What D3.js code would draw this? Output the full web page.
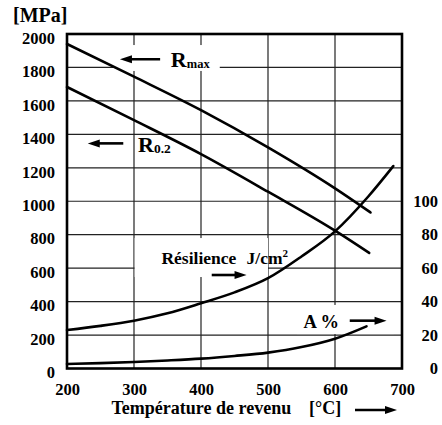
<!DOCTYPE html>
<html>
<head>
<meta charset="utf-8">
<script src="https://cdn.jsdelivr.net/npm/d3@7"></script>
<style>
  body { margin: 0; background: #fff; }
  svg { font-family: "Liberation Serif", "Times New Roman", serif; font-weight: bold; }
</style>
</head>
<body>
<svg id="chart" width="442" height="425"></svg>
<script>
// tick values
const xTicks = [200, 300, 400, 500, 600, 700];
const leftTicks = [0, 200, 400, 600, 800, 1000, 1200, 1400, 1600, 1800, 2000];
const rightTicks = [0, 20, 40, 60, 80, 100];

// R max [MPa]
const rmaxT = [200, 300, 400, 500, 600, 653];
const rmaxV = [1940, 1745, 1545, 1322, 1077, 933];

// R 0.2 [MPa]
const r02T = [200, 300, 400, 500, 600, 651];
const r02V = [1683, 1485, 1282, 1057, 824, 691];

// Résilience [J/cm²], right axis
const resT = [200, 250, 300, 350, 400, 450, 500, 550, 600, 650, 687];
const resV = [23, 25.5, 28.6, 33, 39, 45.5, 54, 67, 82, 103, 121];

// A % , right axis
const aT = [200, 250, 300, 350, 400, 450, 500, 550, 600, 647];
const aV = [2.7, 3.2, 3.9, 4.8, 5.9, 7.5, 9.5, 12.8, 17.8, 25.2];

const plotLeft = 67, plotRight = 402, plotTop = 34, plotBottom = 368.5;

const svg = d3.select("#chart");

const x = d3.scaleLinear().domain([200, 700]).range([plotLeft, plotRight]);
const yL = d3.scaleLinear().domain([0, 2000]).range([plotBottom, plotTop]);
const yR = d3.scaleLinear().domain([0, 200]).range([plotBottom, plotTop]);

// grid
svg.append("g")
    .selectAll("line")
    .data(xTicks.slice(1, -1))
    .join("line")
    .attr("x1", d => x(d)).attr("x2", d => x(d))
    .attr("y1", plotTop).attr("y2", plotBottom)
    .attr("stroke", "#222").attr("stroke-width", 1.2);
svg.append("g")
    .selectAll("line")
    .data(leftTicks.slice(1, -1))
    .join("line")
    .attr("x1", plotLeft).attr("x2", plotRight)
    .attr("y1", d => yL(d)).attr("y2", d => yL(d))
    .attr("stroke", "#222").attr("stroke-width", 1.2);

// white boxes behind the labels, cut the grid like in the original
const boxes = [
    { t0: 269, t1: 428, v0: 1934, v1: 1779 },
    { t0: 301, t1: 500, v0: 780, v1: 547 },
    { t0: 543, t1: 688, v0: 380, v1: 206 }
];
svg.append("g")
    .selectAll("rect")
    .data(boxes)
    .join("rect")
    .attr("x", d => x(d.t0))
    .attr("y", d => yL(d.v0))
    .attr("width", d => x(d.t1) - x(d.t0))
    .attr("height", d => yL(d.v1) - yL(d.v0))
    .attr("fill", "#fff");

// frame
svg.append("rect")
    .attr("x", plotLeft).attr("y", plotTop)
    .attr("width", plotRight - plotLeft).attr("height", plotBottom - plotTop)
    .attr("fill", "none").attr("stroke", "#000").attr("stroke-width", 2.6);

// axes
const xAxis = svg.append("g")
    .attr("transform", `translate(0,${plotBottom})`)
    .call(d3.axisBottom(x).tickValues(xTicks).tickSize(0).tickPadding(15).tickFormat(d3.format("d")));
const yAxisL = svg.append("g")
    .attr("transform", `translate(${plotLeft},0)`)
    .call(d3.axisLeft(yL).tickValues(leftTicks).tickSize(0).tickPadding(12).tickFormat(d3.format("d")));
const yAxisR = svg.append("g")
    .attr("transform", `translate(${plotRight},0)`)
    .call(d3.axisRight(yR).tickValues(rightTicks).tickSize(0).tickFormat(d3.format("d")));

[xAxis, yAxisL, yAxisR].forEach(g => {
    g.select(".domain").remove();
    g.selectAll("text")
        .attr("font-family", "Liberation Serif")
        .attr("font-weight", "bold")
        .attr("font-size", "16.5px")
        .attr("fill", "#000");
});
yAxisL.selectAll("text").attr("y", 4);
yAxisR.selectAll("text").attr("text-anchor", "end").attr("x", 36);

// curves
const line = d3.line().curve(d3.curveMonotoneX);
const curves = [
    { t: rmaxT, v: rmaxV, y: yL },
    { t: r02T, v: r02V, y: yL },
    { t: resT, v: resV, y: yR },
    { t: aT, v: aV, y: yR }
];
svg.append("g")
    .selectAll("path")
    .data(curves)
    .join("path")
    .attr("d", c => line(c.t.map((t, i) => [x(t), c.y(c.v[i])])))
    .attr("fill", "none")
    .attr("stroke", "#000")
    .attr("stroke-width", 2.6)
    .attr("stroke-linecap", "round");

// arrows
function arrow(x1, x2, y) {
    const dir = x2 > x1 ? 1 : -1;
    const g = svg.append("g");
    g.append("line")
        .attr("x1", x1).attr("x2", x2 - dir * 8)
        .attr("y1", y).attr("y2", y)
        .attr("stroke", "#000").attr("stroke-width", 2.6);
    g.append("path")
        .attr("d", `M${x2},${y} L${x2 - dir * 12},${y - 4} L${x2 - dir * 12},${y + 4} Z`)
        .attr("fill", "#000");
}
arrow(x(339), x(279), yL(1849));
arrow(x(284), x(231), yL(1346));
arrow(x(416), x(468), yL(559));
arrow(x(622), x(677), yL(286));
arrow(355, 397, 410);

// labels
const rmax = svg.append("text")
    .attr("x", x(355)).attr("y", yL(1805))
    .attr("font-size", "22px");
rmax.append("tspan").text("R");
rmax.append("tspan").attr("font-size", "12.5px").attr("dy", 1).text("max");

const r02 = svg.append("text")
    .attr("x", x(306)).attr("y", yL(1296))
    .attr("font-size", "22px");
r02.append("tspan").text("R");
r02.append("tspan").attr("font-size", "13.5px").attr("dy", 1).text("0.2");

svg.append("text")
    .attr("x", x(341)).attr("y", yL(625))
    .attr("font-size", "17.5px")
    .text("Résilience");
const jcm = svg.append("text")
    .attr("x", x(468)).attr("y", yL(625))
    .attr("font-size", "17.5px");
jcm.append("tspan").text("J/cm");
jcm.append("tspan").attr("font-size", "11px").attr("dy", -7).text("2");

svg.append("text")
    .attr("x", x(553)).attr("y", yL(240))
    .attr("font-size", "18.5px")
    .text("A %");

svg.append("text")
    .attr("x", 13).attr("y", 22)
    .attr("font-size", "20px")
    .text("[MPa]");

svg.append("text")
    .attr("x", 111.5).attr("y", 414)
    .attr("font-size", "18px")
    .text("Température de revenu");
svg.append("text")
    .attr("x", 309).attr("y", 414)
    .attr("font-size", "18px")
    .text("[°C]");
</script>
</body>
</html>
